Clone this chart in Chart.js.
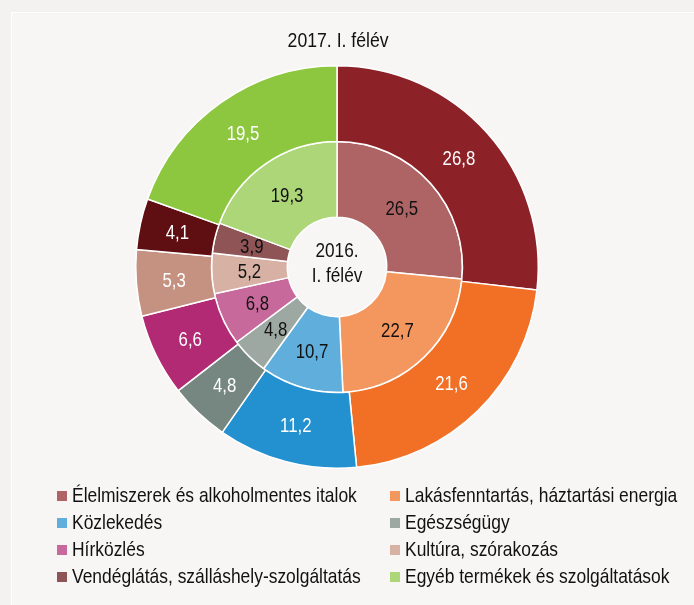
<!DOCTYPE html>
<html>
<head>
<meta charset="utf-8">
<script src="https://cdn.jsdelivr.net/npm/chart.js@4"></script>
<style>
  html, body { margin: 0; padding: 0; background: #f3f2f0; }
  #wrap { position: relative; width: 694px; height: 605px; overflow: hidden; }
  #panel { position: absolute; left: 11px; top: 12px; width: 700px; height: 620px;
           background: #f7f6f4; border-left: 1px solid #ffffff; border-top: 1px solid #ffffff; }
  #chart { position: absolute; left: 0; top: 0; }
  #title { position: absolute; left: 0; width: 676px; top: 28px; text-align: center;
           font: 21px "Liberation Sans", Arial, sans-serif; color: #111; }
  #title span { display: inline-block; transform: scaleX(0.84); }
  #legend { position: absolute; left: 57px; top: 482px;
            font: 21px "Liberation Sans", Arial, sans-serif; color: #111; }
  .item { position: absolute; white-space: nowrap; height: 26px; line-height: 26px; }
  .box { position: absolute; left: 0; top: 9px; width: 10px; height: 10px; }
  .txt { position: absolute; left: 15px; top: 0; display: inline-block;
         transform: scaleX(0.83); transform-origin: 0 50%; }
</style>
</head>
<body>
<div id="wrap">
  <div id="panel"></div>
  <canvas id="chart" width="694" height="605"></canvas>
  <div id="title"><span>2017. I. félév</span></div>
  <div id="legend"></div>
</div>
<script>
// Adatok
const categories = [
  'Élelmiszerek és alkoholmentes italok',
  'Lakásfenntartás, háztartási energia',
  'Közlekedés',
  'Egészségügy',
  'Hírközlés',
  'Kultúra, szórakozás',
  'Vendéglátás, szálláshely-szolgáltatás',
  'Egyéb termékek és szolgáltatások'
];
const values2017 = [26.8, 21.6, 11.2, 4.8, 6.6, 5.3, 4.1, 19.5];
const values2016 = [26.5, 22.7, 10.7, 4.8, 6.8, 5.2, 3.9, 19.3];

const colors2017 = ['#8c2227', '#f17026', '#2390d0', '#768680', '#b12a73', '#c59181', '#5f0f11', '#8dc63f'];
const colors2016 = ['#ae6464', '#f4975f', '#60aedc', '#9ea8a3', '#c8699b', '#d8b1a5', '#8f5455', '#add679'];

const fontFam = '"Liberation Sans", Arial, sans-serif';

// keskenyitett szoveg (Arial Narrow helyett)
function narrowText(ctx, text, x, y, sx) {
  ctx.save();
  ctx.translate(x, y);
  ctx.scale(sx, 1);
  ctx.fillText(text, 0, 0);
  ctx.restore();
}

// ertekek kiirasa a szeletekre
const sliceLabels = {
  id: 'sliceLabels',
  afterDatasetsDraw(chart) {
    const ctx = chart.ctx;
    ctx.save();
    ctx.font = '21px ' + fontFam;
    ctx.textAlign = 'center';
    ctx.textBaseline = 'middle';
    chart.data.datasets.forEach((ds, di) => {
      const meta = chart.getDatasetMeta(di);
      meta.data.forEach((arc, i) => {
        const p = arc.tooltipPosition();
        ctx.fillStyle = di === 0 ? '#ffffff' : '#111111';
        narrowText(ctx, ds.data[i].toFixed(1).replace('.', ','), p.x, p.y + 1, 0.8);
      });
    });
    // kozepso felirat
    const a = chart.chartArea;
    const cx = (a.left + a.right) / 2, cy = (a.top + a.bottom) / 2;
    ctx.fillStyle = '#111111';
    narrowText(ctx, '2016.', cx, cy - 16, 0.82);
    narrowText(ctx, 'I. félév', cx, cy + 9, 0.82);
    ctx.restore();
  }
};

new Chart(document.getElementById('chart'), {
  type: 'doughnut',
  data: {
    labels: categories,
    datasets: [
      { label: '2017. I. félév', data: values2017, backgroundColor: colors2017,
        borderColor: '#ffffff', borderWidth: 1.5 },
      { label: '2016. I. félév', data: values2016, backgroundColor: colors2016,
        borderColor: '#ffffff', borderWidth: 1.5 }
    ]
  },
  options: {
    responsive: false,
    animation: false,
    cutout: '24.7%',
    layout: { padding: { left: 135, right: 155, top: 65, bottom: 136 } },
    plugins: {
      legend: { display: false },
      tooltip: { enabled: false }
    }
  },
  plugins: [sliceLabels]
});

// jelmagyarazat (ket oszlop)
const legend = document.getElementById('legend');
categories.forEach((name, k) => {
  const el = document.createElement('div');
  el.className = 'item';
  el.style.left = (k % 2 === 0 ? 0 : 333) + 'px';
  el.style.top = (Math.floor(k / 2) * 27) + 'px';
  el.innerHTML = '<span class="box" style="background:' + colors2016[k] + '"></span>' +
                 '<span class="txt">' + name + '</span>';
  legend.appendChild(el);
});
</script>
</body>
</html>
